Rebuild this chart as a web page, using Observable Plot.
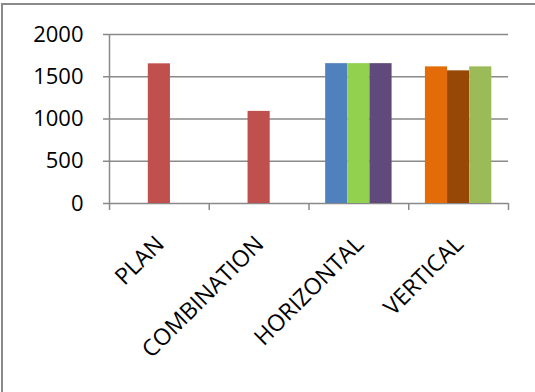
<!DOCTYPE html>
<html>
<head>
<meta charset="utf-8">
<script src="https://cdn.jsdelivr.net/npm/d3@7"></script>
<script src="https://cdn.jsdelivr.net/npm/@observablehq/plot@0.6"></script>
<style>
  html, body { margin: 0; padding: 0; background: #fff; }
  #wrap { position: relative; width: 535px; height: 392px; overflow: hidden; }
  #border { position: absolute; left: 1px; top: 3px; right: -10px; bottom: -10px;
            border-left: 2px solid #8a8a8a; border-top: 2px solid #8a8a8a; pointer-events: none; }
  #chart svg { display: block; }
</style>
</head>
<body>
<div id="wrap">
  <div id="chart"></div>
  <div id="border"></div>
</div>
<script>
// Categories along the x axis
const categories = ["PLAN", "COMBINATION", "HORIZONTAL", "VERTICAL"];

// Bar values within each category (left to right)
const planValues = [1653];
const combinationValues = [1090];
const horizontalValues = [1655, 1655, 1655];
const verticalValues = [1617, 1570, 1617];

// Bar fills within each category
const planColors = ["#C0504D"];
const combinationColors = ["#C0504D"];
const horizontalColors = ["#4F81BD", "#92D050", "#604A7B"];
const verticalColors = ["#E36C09", "#974806", "#9BBB59"];

// Y-axis ticks
const yTicks = [0, 500, 1000, 1500, 2000];

const groups = [
  [planValues, planColors],
  [combinationValues, combinationColors],
  [horizontalValues, horizontalColors],
  [verticalValues, verticalColors]
];

// Each category occupies one unit on x; bars sit side by side, centered in it
const barWidth = 0.222;
const bars = groups.flatMap(([values, colors], ci) =>
  values.map((value, j) => {
    const start = ci + 0.5 - (values.length * barWidth) / 2 + j * barWidth;
    return {category: categories[ci], value, color: colors[j], x1: start, x2: start + barWidth};
  })
);

const gray = "#898989";

const chart = Plot.plot({
  width: 535,
  height: 392,
  marginLeft: 109,
  marginRight: 27,
  marginTop: 34,
  marginBottom: 189,
  style: {fontFamily: "'Open Sans', sans-serif", fontSize: "22px", color: "#000", background: "transparent"},
  x: {domain: [0, categories.length], axis: null},
  y: {domain: [0, 2000], axis: null},
  marks: [
    Plot.ruleY(yTicks, {stroke: gray, strokeWidth: 1.5}),
    Plot.ruleX([0], {stroke: gray, strokeWidth: 1.5}),
    Plot.axisY({ticks: yTicks, tickSize: 6, tickPadding: 20, stroke: gray, strokeWidth: 1.5,
                fill: "#000", fontSize: 22, label: null, tickFormat: d => String(d)}),
    Plot.axisX({ticks: d3.range(categories.length + 1), tickSize: 7, stroke: gray, strokeWidth: 1.5,
                label: null, tickFormat: () => ""}),
    Plot.rectY(bars, {x1: "x1", x2: "x2", y: "value", fill: "color"}),
    Plot.text(categories, {
      x: (d, i) => i + 0.5,
      frameAnchor: "bottom",
      rotate: -45,
      textAnchor: "end",
      dx: 6,
      dy: 42,
      fill: "#000",
      fontSize: 23
    })
  ]
});

document.getElementById("chart").appendChild(chart);
</script>
</body>
</html>
